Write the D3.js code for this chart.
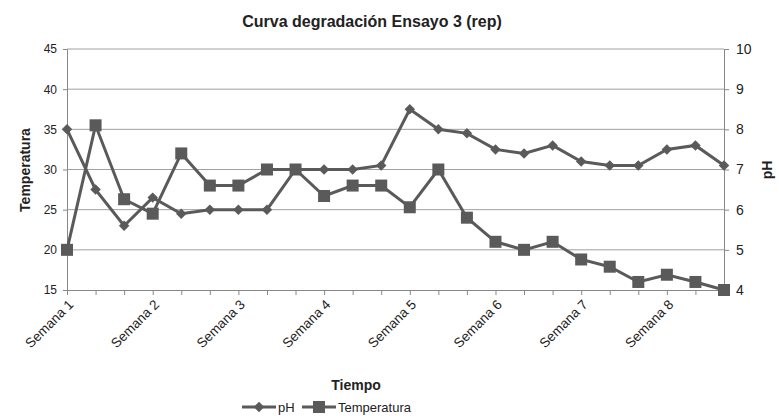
<!DOCTYPE html>
<html><head><meta charset="utf-8">
<script src="https://cdn.jsdelivr.net/npm/d3@7"></script>
<style>body{margin:0;background:#fff}text{font-family:"Liberation Sans",Arial,sans-serif}</style>
</head><body><svg id="c" width="779" height="416"></svg>
<script>
const weekLabels = ["Semana 1","","","Semana 2","","","Semana 3","","","Semana 4","","","Semana 5","","","Semana 6","","","Semana 7","","","Semana 8","",""];
const categories = weekLabels.map((d,i)=>"p"+i);
const phValues = [8.0,6.5,5.6,6.3,5.9,6.0,6.0,6.0,7.0,7.0,7.0,7.1,8.5,8.0,7.9,7.5,7.4,7.6,7.2,7.1,7.1,7.5,7.6,7.1];
const tempValues = [20,35.5,26.3,24.5,32,28,28,30,30,26.7,28,28,25.3,30,24,21,20,21,18.8,17.9,16,16.9,16,15];
const leftTicks = [15,20,25,30,35,40,45];
const rightTicks = [4,5,6,7,8,9,10];

const svg = d3.select("#c");
const L=67,R=724,T=49,B=290;
const col="#5a5a5a";
const x = d3.scalePoint().domain(categories).range([L,R]).padding(0);
const yL = d3.scaleLinear().domain([15,45]).range([B,T]);
const yR = d3.scaleLinear().domain([4,10]).range([B,T]);

// grid
svg.append("g").selectAll("line").data(leftTicks.slice(1)).join("line")
  .attr("x1",L).attr("x2",R).attr("y1",d=>yL(d)).attr("y2",d=>yL(d))
  .attr("stroke","#a0a0a0").attr("stroke-width",1);

const gl = svg.append("g").attr("transform",`translate(${L},0)`)
  .call(d3.axisLeft(yL).tickValues(leftTicks).tickSize(4).tickPadding(6));
gl.select(".domain").attr("stroke","#888");
gl.selectAll(".tick line").attr("stroke","#888");
gl.selectAll("text").attr("font-size",12).attr("fill","#222");

const gr = svg.append("g").attr("transform",`translate(${R},0)`)
  .call(d3.axisRight(yR).tickValues(rightTicks).tickSize(5).tickPadding(7).tickFormat(d3.format("d")));
gr.select(".domain").attr("stroke","#888");
gr.selectAll(".tick line").attr("stroke","#888");
gr.selectAll("text").attr("font-size",14).attr("fill","#222");

const gx = svg.append("g").attr("transform",`translate(0,${B})`)
  .call(d3.axisBottom(x).tickSize(5).tickFormat(""));
gx.select(".domain").attr("stroke","#888");
gx.selectAll(".tick line").attr("stroke","#888");

const lab = svg.append("g").selectAll("g").data(weekLabels.map((l,i)=>({l,i})).filter(d=>d.l)).join("g")
  .attr("transform",d=>`translate(${x(categories[d.i])+4},${B+12})`);
lab.append("g").attr("transform","rotate(-45)").append("text")
  .attr("text-anchor","end").attr("dy","0.35em").attr("font-size",13.5).attr("fill","#222")
  .text(d=>d.l);

// lines
const lineT = d3.line().x((d,i)=>x(categories[i])).y(d=>yL(d));
const lineP = d3.line().x((d,i)=>x(categories[i])).y(d=>yR(d));
svg.append("path").attr("d",lineT(tempValues)).attr("fill","none").attr("stroke",col).attr("stroke-width",3);
svg.append("path").attr("d",lineP(phValues)).attr("fill","none").attr("stroke",col).attr("stroke-width",3);

const diamond = d3.symbol().type(d3.symbolDiamond2).size(70);
svg.append("g").selectAll("path").data(phValues).join("path")
  .attr("d",diamond).attr("transform",(d,i)=>`translate(${x(categories[i])},${yR(d)})`)
  .attr("fill",col);
svg.append("g").selectAll("rect").data(tempValues).join("rect")
  .attr("x",(d,i)=>x(categories[i])-6).attr("y",d=>yL(d)-6).attr("width",12).attr("height",12)
  .attr("fill",col);

// titles
svg.append("text").attr("x",372).attr("y",27).attr("text-anchor","middle").attr("font-size",16).attr("font-weight","bold").attr("fill","#222").text("Curva degradación Ensayo 3 (rep)");
svg.append("text").attr("transform","translate(30,170) rotate(-90)").attr("text-anchor","middle").attr("font-size",14).attr("font-weight","bold").attr("fill","#222").text("Temperatura");
svg.append("text").attr("transform","translate(772,170) rotate(-90)").attr("text-anchor","middle").attr("font-size",14).attr("font-weight","bold").attr("fill","#222").text("pH");
svg.append("text").attr("x",356).attr("y",390).attr("text-anchor","middle").attr("font-size",14).attr("font-weight","bold").attr("fill","#222").text("Tiempo");

// legend
const lg = svg.append("g").attr("transform","translate(242,407)");
lg.append("line").attr("x1",0).attr("x2",34).attr("stroke",col).attr("stroke-width",3);
lg.append("path").attr("d",diamond).attr("transform","translate(17,0)").attr("fill",col);
lg.append("text").attr("x",36).attr("y",5).attr("font-size",13).attr("fill","#222").text("pH");
lg.append("line").attr("x1",60).attr("x2",94).attr("stroke",col).attr("stroke-width",3);
lg.append("rect").attr("x",71).attr("y",-6).attr("width",12).attr("height",12).attr("fill",col);
lg.append("text").attr("x",96).attr("y",5).attr("font-size",13).attr("fill","#222").text("Temperatura");
</script></body></html>
